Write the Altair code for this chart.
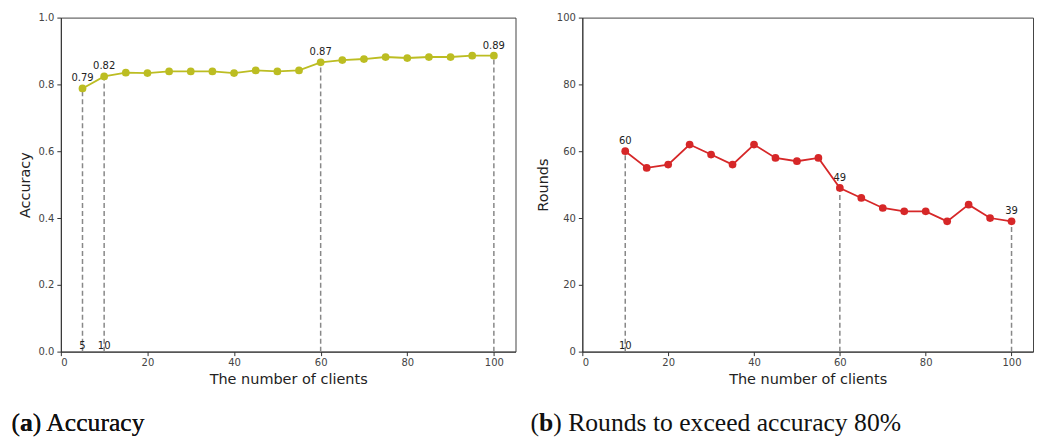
import altair as alt
import pandas as pd

clients_a = [5, 10, 15, 20, 25, 30, 35, 40, 45, 50, 55, 60, 65, 70, 75, 80, 85, 90, 95, 100]
accuracy = [0.788, 0.824, 0.835, 0.834, 0.839, 0.839, 0.839, 0.834, 0.842, 0.839, 0.842,
            0.866, 0.873, 0.876, 0.882, 0.879, 0.882, 0.882, 0.886, 0.886]
marked_a = [5, 10, 60, 100]
marked_a_labels = ["0.79", "0.82", "0.87", "0.89"]
bottom_a = [5, 10]

clients_b = [10, 15, 20, 25, 30, 35, 40, 45, 50, 55, 60, 65, 70, 75, 80, 85, 90, 95, 100]
rounds = [60, 55, 56, 62, 59, 56, 62, 58, 57, 58, 49, 46, 43, 42, 42, 39, 44, 40, 39]
marked_b = [10, 60, 100]
marked_b_labels = ["60", "49", "39"]
bottom_b = [10]

H = 335
TICK_FONT = "DejaVu Sans"
CAP_FONT = "Liberation Serif"
CAP_SIZE = 25.7


def panel(xs, ys, marked, marked_labels, bottom, color, ymax, yticks, ytitle, cap_letter, cap_rest, w, cap_x):
    df = pd.DataFrame({"x": xs, "y": ys})
    lookup = dict(zip(xs, ys))
    dm = pd.DataFrame({"x": marked, "y": [lookup[m] for m in marked], "lab": marked_labels, "y0": [0] * len(marked)})
    db = pd.DataFrame({"x": bottom, "lab": [str(b) for b in bottom], "y0": [0] * len(bottom)})

    xs_ = alt.Scale(domain=[0, 105], nice=False, zero=False)
    ys_ = alt.Scale(domain=[0, ymax], nice=False)
    xax = alt.Axis(values=[0, 20, 40, 60, 80, 100], title="The number of clients", grid=False,
                   labelFont=TICK_FONT, labelFontSize=10, labelColor="#444", titleFont=TICK_FONT,
                   titleFontSize=14.5, titleFontWeight="normal", titleColor="#222", tickSize=4,
                   domainColor="#333", tickColor="#333", titlePadding=5, labelPadding=2)
    yax = alt.Axis(values=yticks, title=ytitle, grid=False, labelFont=TICK_FONT, labelFontSize=10,
                   labelColor="#444", titleFont=TICK_FONT, titleFontSize=14.5, titleFontWeight="normal",
                   titleColor="#222", tickSize=4, domainColor="#333", tickColor="#333",
                   titlePadding=6, labelPadding=3, format=".1f" if ymax == 1 else "d")

    base = alt.Chart(df)
    rules = alt.Chart(dm).mark_rule(color="#888", strokeDash=[5, 3], strokeWidth=1.5).encode(
        x=alt.X("x:Q", scale=xs_, axis=xax), y=alt.Y("y0:Q", scale=ys_, axis=yax), y2="y:Q")
    line = base.mark_line(color=color, strokeWidth=1.8).encode(
        x=alt.X("x:Q", scale=xs_), y=alt.Y("y:Q", scale=ys_))
    pts = base.mark_circle(color=color, size=60, opacity=1).encode(
        x=alt.X("x:Q", scale=xs_), y=alt.Y("y:Q", scale=ys_))
    labs = alt.Chart(dm).mark_text(font=TICK_FONT, fontSize=10, color="#222", baseline="bottom", dy=-5).encode(
        x=alt.X("x:Q", scale=xs_), y=alt.Y("y:Q", scale=ys_), text="lab:N")
    blabs = alt.Chart(db).mark_text(font=TICK_FONT, fontSize=10, color="#222", baseline="bottom", dy=-1).encode(
        x=alt.X("x:Q", scale=xs_), y=alt.Y("y0:Q", scale=ys_), text="lab:N")
    cap1 = alt.Chart(db).mark_text(font=CAP_FONT, fontSize=CAP_SIZE, color="#111", align="left",
                                   baseline="alphabetic").encode(
        x=alt.value(cap_x[0]), y=alt.value(415), text=alt.value("("))
    cap2 = alt.Chart(db).mark_text(font=CAP_FONT, fontSize=CAP_SIZE, fontWeight="bold", color="#111",
                                   align="left", baseline="alphabetic").encode(
        x=alt.value(cap_x[1]), y=alt.value(415), text=alt.value(cap_letter))
    cap3 = alt.Chart(db).mark_text(font=CAP_FONT, fontSize=CAP_SIZE, color="#111", align="left",
                                   baseline="alphabetic").encode(
        x=alt.value(cap_x[2]), y=alt.value(415), text=alt.value(cap_rest))
    return alt.layer(rules, line, pts, labs, blabs, cap1, cap2, cap3).properties(width=w, height=H)


left = panel(clients_a, accuracy, marked_a, marked_a_labels, bottom_a, "#bcbd22", 1,
             [0, 0.2, 0.4, 0.6, 0.8, 1.0], "Accuracy", "a", ") Accuracy", 456, (-49.5, -41, -28.1))
right = panel(clients_b, rounds, marked_b, marked_b_labels, bottom_b, "#d62728", 100,
              [0, 20, 40, 60, 80, 100], "Rounds", "b", ") Rounds to exceed accuracy 80%", 452,
              (-52, -43.4, -29.1))

chart = alt.hconcat(left, right, spacing=13).properties(
    padding={"left": 3, "right": 0, "top": 3, "bottom": 0}
).configure(background="white").configure_view(stroke="#444", strokeWidth=1)

chart.save("out.html", embed_options={"renderer": "svg", "actions": False})
